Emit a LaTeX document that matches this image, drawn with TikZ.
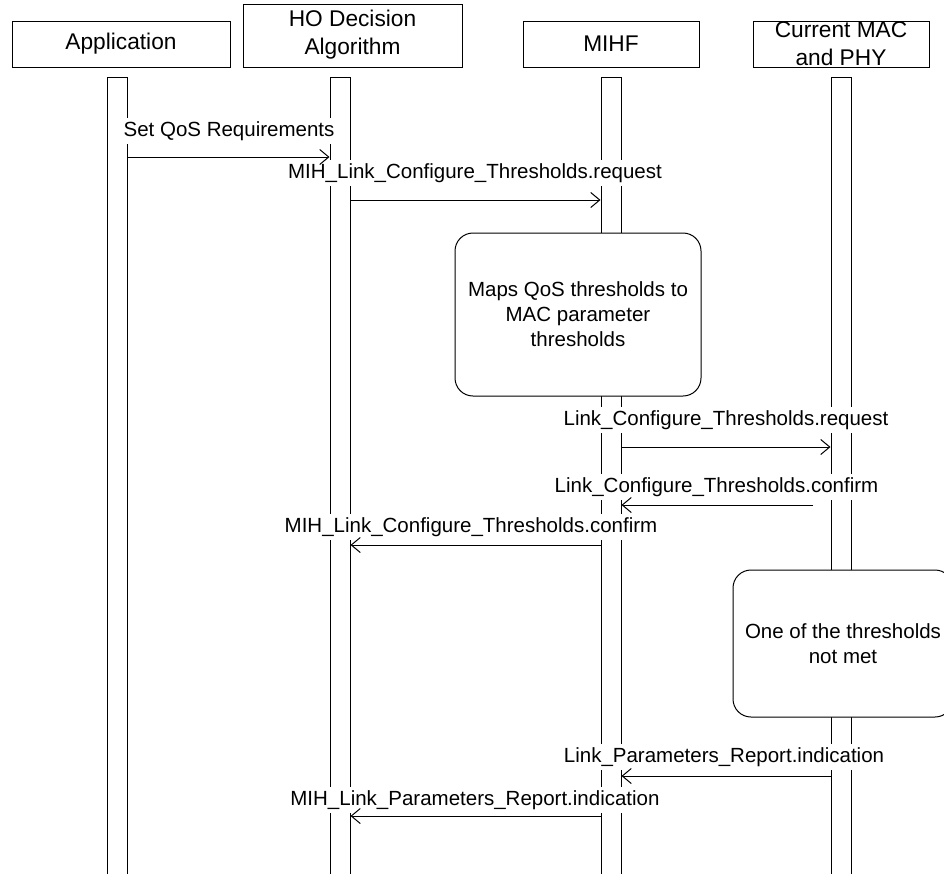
\documentclass[tikz,border=0pt]{standalone}
\usepackage{fontspec}
\setmainfont{Liberation Sans}
\usetikzlibrary{arrows.meta, positioning, shapes}

\tikzset{
  actor/.style={draw, line width=1pt, inner sep=0pt, align=center, font=\fontsize{22.7}{28}\selectfont},
  lifeline/.style={draw, line width=1pt, fill=white, minimum width=20pt, minimum height=803pt, inner sep=0pt},
  msg/.style={line width=1pt, -{Straight Barb[length=9pt, width=15pt, line width=1pt]}},
  msglabel/.style={fill=white, inner xsep=1pt, inner ysep=3pt, font=\fontsize{20.5}{25}\selectfont},
  action/.style={draw, line width=1pt, fill=white, rounded corners=18pt, inner sep=0pt, align=center, font=\fontsize{20.5}{25}\selectfont}
}

\begin{document}
\begin{tikzpicture}[x=1pt, y=-1pt]
    \useasboundingbox (0,0) rectangle (944,873);

    % Participants
    \node[actor, minimum width=218pt, minimum height=46pt] (app) at (121,44) {};
    \node[actor, minimum width=219pt, minimum height=63pt] (ho) at (352.5,35.5) {};
    \node[actor, minimum width=176pt, minimum height=46pt] (mihf) at (611,44) {};
    \node[actor, minimum width=176pt, minimum height=46pt] (mac) at (841,44) {};
    \node[actor, draw=none] (appText) at (app) {Application};
    \node[actor, draw=none] (hoText) at (352.5,34.5) {HO Decision\\Algorithm};
    \node[actor, draw=none] (mihfText) at (mihf) {MIHF};
    \node[actor, draw=none] (macText) at (mac) {Current MAC\\and PHY};

    % Lifelines (open at the bottom)
    \node[lifeline] (appLine) at (117.5,478.5) {};
    \node[lifeline] (hoLine) at (340,478.5) {};
    \node[lifeline] (mihfLine) at (611,478.5) {};
    \node[lifeline] (macLine) at (841,478.5) {};

    % Local actions
    \node[action, minimum width=246pt, minimum height=163pt] (mapQos) at (578,314.5)
        {Maps QoS thresholds to\\MAC parameter\\thresholds};
    \node[action, minimum width=220pt, minimum height=147pt] (notMet) at (843,643.5)
        {One of the thresholds\\not met};

    % Message labels (they break the lifelines)
    \node[msglabel] (setQos) at (229,131) {Set QoS Requirements};
    \node[msglabel] (mihCfgReq) at (475,173) {MIH\_Link\_Configure\_Thresholds.request};
    \node[msglabel] (cfgReq) at (726,420) {Link\_Configure\_Thresholds.request};
    \node[msglabel] (cfgCnf) at (716.5,487) {Link\_Configure\_Thresholds.confirm};
    \node[msglabel] (mihCfgCnf) at (471,527) {MIH\_Link\_Configure\_Thresholds.confirm};
    \node[msglabel] (paramInd) at (724,757) {Link\_Parameters\_Report.indication};
    \node[msglabel] (mihParamInd) at (475,800) {MIH\_Link\_Parameters\_Report.indication};

    % Messages
    \draw[msg] (appLine.east |- 0,157) -- (hoLine.west |- 0,157);
    \draw[msg] (hoLine.east |- 0,200) -- (mihfLine.west |- 0,200);
    \draw[msg] (mihfLine.east |- 0,447) -- (macLine.west |- 0,447);
    \coordinate (cfgCnfStart) at (813,505);
    \draw[msg] (cfgCnfStart) -- (mihfLine.east |- cfgCnfStart);
    \draw[msg] (mihfLine.west |- 0,545) -- (hoLine.east |- 0,545);
    \draw[msg] (macLine.west |- 0,776) -- (mihfLine.east |- 0,776);
    \draw[msg] (mihfLine.west |- 0,816) -- (hoLine.east |- 0,816);
\end{tikzpicture}
\end{document}
